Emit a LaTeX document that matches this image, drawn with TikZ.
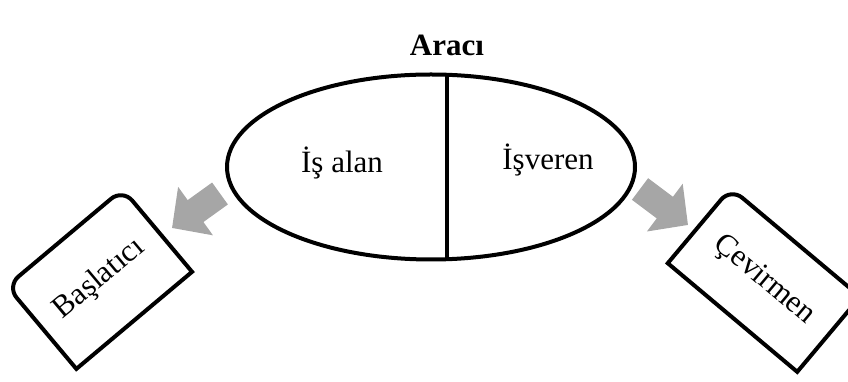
\documentclass[tikz,border=0pt]{standalone}
\usepackage{fontspec}
\setmainfont{Liberation Serif}
\usepackage{tikz}
\usetikzlibrary{positioning,arrows.meta,calc,shapes.geometric}
\definecolor{dArrow}{RGB}{166,166,166}
\tikzset{
  big/.style={font=\fontsize{31pt}{37pt}\selectfont},
  lbl/.style={big, inner sep=0pt},
  head/.style={lbl, font=\fontsize{31pt}{37pt}\selectfont\bfseries},
  party/.style={ellipse, draw=black, line width=4pt, minimum width=408pt,
                minimum height=185pt, outer sep=0pt, inner sep=0pt},
  card/.style={rectangle, big, minimum width=151pt, minimum height=108pt,
               outer sep=0pt, inner sep=0pt},
  rim/.style={draw=black, line width=4pt, line join=miter},
  push/.style={-{Triangle[length=29pt, width=58pt]}, draw=dArrow, line width=27pt},
}
\begin{document}
\begin{tikzpicture}[x=1pt, y=1pt, on grid]
  \useasboundingbox (0,0) rectangle (848,382);
  % --- broker, split in two sides ---
  \node[party] (ell) at (431,215) {};
  \draw[rim] ($(ell.north)+(16,0)$) -- ($(ell.south)+(16,0)$);
  \node[head, above=122pt of ell, xshift=16pt] (title) {Aracı};
  \node[lbl, left=89pt of ell, yshift=4pt]    (emp)  {İş alan};
  \node[lbl, right=117pt of ell, yshift=7pt]  (boss) {İşveren};

  % --- the two tilted cards ---
  \node[card, rotate=40, below left=112pt and 331.5pt of ell] (init) {Başlatıcı};
  \node[card, rotate=-40, minimum width=169pt, minimum height=98pt,
        below right=113pt and 333pt of ell] (trans) {Çevirmen};
  \draw[rim] (init.south) -- (init.south west) -- (init.west) [rounded corners=15pt]
    -- (init.north west) -- (init.north east) -- (init.east) [sharp corners]
    -- (init.south east) -- cycle;
  \draw[rim] (trans.south) -- (trans.south west) -- (trans.west) [rounded corners=15pt]
    -- (trans.north west) -- (trans.north east) -- (trans.east) [sharp corners]
    -- (trans.south east) -- cycle;

  % --- grey block arrows ---
  \coordinate (giveS) at (220,188.5);
  \coordinate (giveE) at (172,154);
  \coordinate (takeS) at (640,193);
  \coordinate (takeE) at (688,157);
  \draw[push] (giveS) -- (giveE);
  \draw[push] (takeS) -- (takeE);
\end{tikzpicture}
\end{document}
